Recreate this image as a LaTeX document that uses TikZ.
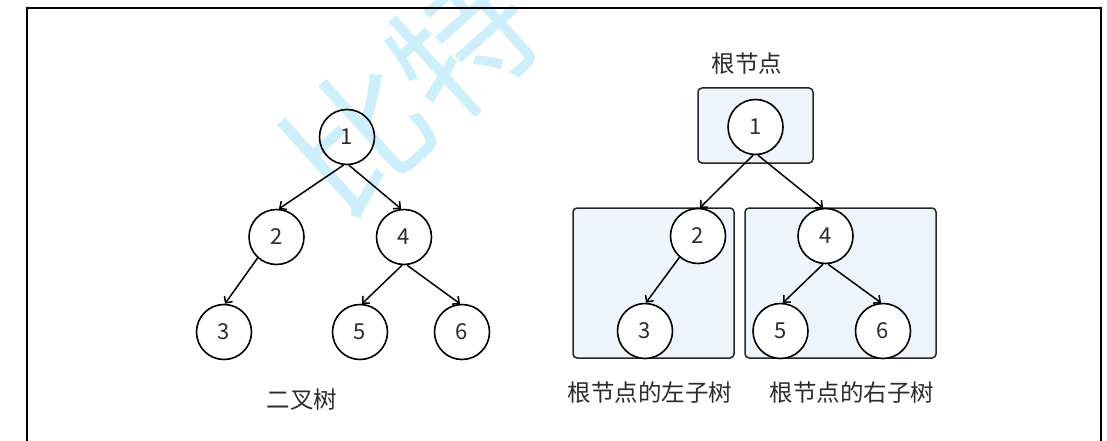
\documentclass[tikz,border=0pt]{standalone}
\usepackage{fontspec}
\setmainfont{Noto Sans CJK SC}
\newfontfamily\cjk{Noto Sans CJK SC}
\usetikzlibrary{arrows.meta}
\definecolor{wm}{HTML}{CDEFFB}
\definecolor{txt}{HTML}{2B2B2B}
\definecolor{boxfill}{HTML}{EEF3FC}
\tikzset{
  nd/.style={circle, draw=black, line width=1.6pt, minimum size=55pt, inner sep=0pt, text=txt, font=\cjk\fontsize{22}{22}\selectfont},
  ndw/.style={nd, fill=white},
  tbox/.style={draw=black!85, line width=1.5pt, rounded corners=4pt, fill=boxfill, inner sep=0pt},
  lbl/.style={text=txt, font=\cjk\fontsize{23.5}{23.5}\selectfont, inner sep=0pt},
  edge/.style={draw=black, line width=1.5pt, -{Straight Barb[length=5pt,width=10pt]}},
}
\begin{document}
\begin{tikzpicture}[x=1pt,y=-1pt]
\useasboundingbox (0,0) rectangle (1107,441);
\begin{scope}
\clip (0,0) rectangle (1107,441);
\node[rotate=42, text=wm, font=\cjk\fontsize{140}{140}\selectfont, inner sep=0pt] (wmk) at (410,90) {比特};
\end{scope}
% frame
\coordinate (fa) at (27,441);
\coordinate (fb) at (27,8);
\coordinate (fc) at (1101,8);
\coordinate (fd) at (1101,441);
\draw[line width=1.3pt, black] (fa) -- (fb) -- (fc) -- (fd);

% left tree
\node[nd] (l1) at (347,137) {1};
\node[nd] (l2) at (276.5,237) {2};
\node[nd] (l4) at (404,237) {4};
\node[nd] (l3) at (224,332) {3};
\node[nd] (l5) at (360,332) {5};
\node[nd] (l6) at (462,332) {6};
\draw[edge] (l1.-97) -- (l2.85);
\draw[edge] (l1.-86) -- (l4.96);
\draw[edge] (l2.-132) -- (l3.88);
\draw[edge] (l4.-94) -- (l5.86);
\draw[edge] (l4.-84) -- (l6.94);
\node[lbl] (lt) at (302,400) {二叉树};

% right tree
\node[tbox, minimum width=115pt, minimum height=75pt] (rb) at (755.5,125.5) {};
\node[tbox, minimum width=161pt, minimum height=150pt] (lb) at (653.5,283) {};
\node[tbox, minimum width=191pt, minimum height=150pt] (rbx) at (840.5,283) {};
\node[ndw] (r1) at (755.5,127) {1};
\node[ndw] (r2) at (698,236) {2};
\node[ndw] (r4) at (825.5,236) {4};
\node[ndw] (r3) at (645,331) {3};
\node[ndw] (r5) at (780.5,331) {5};
\node[ndw] (r6) at (883,331) {6};
\draw[edge] (r1.-95) -- (r2.86);
\draw[edge] (r1.-85) -- (r4.95);
\draw[edge] (r2.-131) -- (r3.88);
\draw[edge] (r4.-95) -- (r5.85);
\draw[edge] (r4.-85) -- (r6.94);
\node[lbl] (rt) at (747,64) {根节点};
\node[lbl] (rl) at (650,393) {根节点的左子树};
\node[lbl] (rr) at (852,393) {根节点的右子树};
\end{tikzpicture}
\end{document}
